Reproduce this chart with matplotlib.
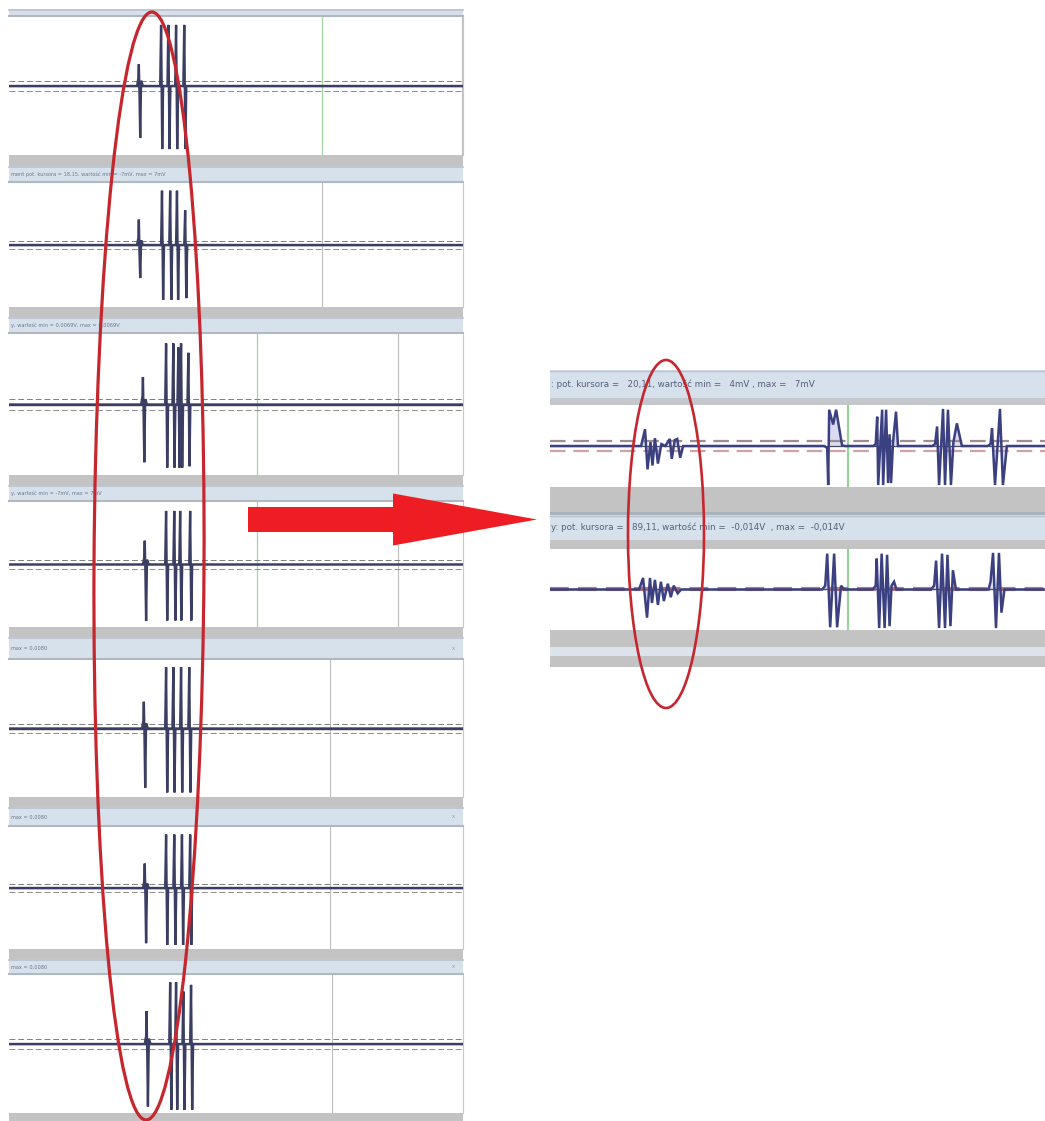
import matplotlib
matplotlib.use("Agg")
import matplotlib.pyplot as plt
from matplotlib.patches import Ellipse, FancyArrow, Rectangle

W, H = 1045, 1121

# ---------------- left column: seven stacked recordings ----------------
left_burst_times = [28.6, 28.6, 29.5, 29.9, 29.7, 29.9, 30.3]
left_burst_up = [0.33, 0.43, 0.41, 0.40, 0.41, 0.42, 0.50]
left_burst_down = [-0.79, -0.56, -0.86, -0.95, -0.91, -0.95, -0.95]
left_spike_times = [
    [33.6, 35.2, 36.9, 38.7],
    [33.8, 35.6, 37.1, 38.9],
    [34.7, 36.3, 37.4, 38.0, 39.6],
    [34.7, 36.5, 37.8, 40.0],
    [34.7, 36.3, 38.0, 39.8],
    [34.7, 36.5, 38.2, 40.0],
    [35.6, 36.9, 38.5, 40.2],
]
left_spike_tops = [
    [0.93, 0.93, 0.93, 0.93],
    [0.92, 0.92, 0.92, 0.59],
    [0.91, 0.91, 0.85, 0.91, 0.77],
    [0.90, 0.90, 0.90, 0.90],
    [0.94, 0.94, 0.94, 0.94],
    [0.92, 0.92, 0.92, 0.92],
    [0.94, 0.94, 0.80, 0.90],
]
left_spike_bottoms = [
    [-0.96, -0.96, -0.96, -0.96],
    [-0.93, -0.93, -0.93, -0.90],
    [-0.94, -0.94, -0.94, -0.94, -0.92],
    [-0.94, -0.94, -0.94, -0.94],
    [-0.98, -0.98, -0.98, -0.98],
    [-0.98, -0.98, -0.98, -0.98],
    [-1.00, -1.00, -1.00, -1.00],
]
left_cursor_green = [69.0, None, 54.7, 54.7, None, None, None]
left_cursor_gray = [99.8, 69.0, 85.7, 85.7, 70.8, 70.8, 71.2]
left_headers = [
    "",
    "ment pot. kursora = 18,15, wartość min = -7mV, max = 7mV",
    "y, wartość min = 0,0069V, max = 0,0069V",
    "y, wartość min = -7mV, max = 7mV",
    "max = 0,0080",
    "max = 0,0080",
    "max = 0,0080",
]

# ---------------- right column: two zoomed recordings ----------------
right_headers = [
    ": pot. kursora =   20,11, wartość min =   4mV , max =   7mV",
    "y: pot. kursora =   89,11, wartość min =  -0,014V  , max =  -0,014V",
]
right_cursor = [60.2, 60.2]
right_a_t = [0.0, 18.4, 19.2, 19.7, 20.3, 20.7, 21.2, 21.8, 22.5, 23.3, 24.2, 24.6,
             25.2, 25.7, 26.3, 26.9,
             55.4, 56.0, 56.2, 56.4, 57.2, 57.8, 59.0, 59.5,
             65.3, 65.8, 66.1, 66.3, 67.1, 67.3, 67.9, 68.3, 68.6, 68.9, 69.3, 69.9, 70.3, 71.0,
             77.2, 77.8, 78.2, 78.6, 79.4, 79.8, 80.4, 81.0, 81.5, 82.2, 83.2, 83.8,
             88.4, 89.0, 89.3, 89.9, 90.9, 91.5, 92.3, 92.8, 100.0]
right_a_v = [0.0, 0.0, 0.43, -0.60, 0.10, -0.50, 0.20, -0.45, 0.05, 0.0, 0.18, -0.33,
             0.15, 0.18, -0.30, 0.0,
             0.0, -0.05, -1.00, 0.93, 0.55, 0.93, 0.02, 0.0,
             0.0, 0.05, 0.75, -1.00, 0.93, -1.00, 0.93, -0.95, 0.30, -0.95, 0.10, 0.88, 0.0, 0.0,
             0.0, 0.05, 0.50, -1.00, 0.95, -1.00, 0.93, -1.00, 0.10, 0.58, 0.0, 0.0,
             0.0, 0.05, 0.45, -1.00, 0.95, -1.00, 0.0, 0.0, 0.0]
right_b_t = [0.0, 18.0, 18.8, 19.6, 20.2, 20.6, 21.2, 21.8, 22.4, 23.0, 23.8, 24.4, 25.0,
             25.8, 26.5,
             55.0, 55.6, 56.0, 56.6, 57.4, 58.0, 58.8, 59.4,
             65.2, 65.8, 66.0, 66.5, 67.0, 67.6, 68.1, 68.6, 69.0, 69.5, 70.0,
             77.0, 77.6, 78.0, 78.6, 79.2, 79.8, 80.3, 80.9, 81.4, 82.0,
             88.6, 89.0, 89.5, 90.1, 90.7, 91.2, 91.8, 100.0]
right_b_v = [0.0, 0.0, 0.30, -0.73, 0.30, -0.35, 0.25, -0.40, 0.20, -0.30, 0.15, -0.20, 0.10,
             -0.10, 0.0,
             0.0, 0.10, 0.93, -0.98, 0.93, -0.98, 0.10, 0.0,
             0.0, 0.10, 0.80, -1.00, 0.93, -1.00, 0.90, -0.95, 0.10, 0.20, 0.0,
             0.0, 0.10, 0.75, -1.00, 0.93, -1.00, 0.90, -0.95, 0.50, 0.0,
             0.0, 0.20, 0.95, -1.00, 0.95, -0.60, 0.0, 0.0]

# ---------------- layout (pixel boxes) ----------------
LX0, LX1 = 9, 463
left_boxes = [  # header top, plot top, plot bottom, gray bar bottom
    (9, 17, 155, 166),
    (166, 183, 307, 317),
    (317, 334, 475, 485),
    (485, 502, 627, 637),
    (637, 660, 797, 807),
    (807, 827, 949, 959),
    (959, 975, 1113, 1121),
]
RX0, RX1 = 550, 1045
right_boxes = [  # header top, header bottom, plot top, plot bottom
    (370, 398, 405, 487),
    (515, 540, 549, 630),
]

BAR = "#c3c3c3"
HEAD = "#d6e1ec"
HEAD_EDGE = "#b7c2ce"
TRACE = "#3a3e62"
FILL = "#7c84c4"

fig = plt.figure(figsize=(W / 100, H / 100), dpi=100)
fig.patch.set_facecolor("white")

bg = fig.add_axes([0, 0, 1, 1], zorder=0)
bg.set_xlim(0, W)
bg.set_ylim(H, 0)
bg.axis("off")


def px_axes(x0, y0, x1, y1, z=1):
    ax = fig.add_axes([x0 / W, 1 - y1 / H, (x1 - x0) / W, (y1 - y0) / H], zorder=z)
    ax.set_facecolor("none")
    ax.axis("off")
    return ax


def rect(x0, y0, x1, y1, color, **kw):
    bg.add_patch(Rectangle((x0, y0), x1 - x0, y1 - y0, facecolor=color,
                           edgecolor="none", **kw))


def left_trace(bt, up, down, times, tops, bots):
    t = [0.0, bt - 0.4, bt - 0.1, bt, bt + 0.15, bt + 0.3, bt + 0.5, bt + 0.9]
    v = [0.0, 0.0, 0.12, up, -0.15, down, 0.08, 0.0]
    for ts, top, bot in zip(times, tops, bots):
        t += [ts - 0.3, ts - 0.1, ts + 0.15, ts + 0.35]
        v += [0.0, top, bot, 0.0]
    t.append(100.0)
    v.append(0.0)
    return t, v


# left column panels
for i, (h0, p0, p1, g1) in enumerate(left_boxes):
    rect(LX0, h0, LX1, p0, HEAD)
    bg.plot([LX0, LX1], [h0 + 0.5, h0 + 0.5], color=HEAD_EDGE, lw=1.2)
    bg.plot([LX0, LX1], [p0 - 0.8, p0 - 0.8], color="#b0b8c2", lw=1.5)
    rect(LX0, p1, LX1, g1, BAR)
    bg.plot([LX1, LX1], [p0, p1], color="#c8c8c8", lw=0.8)
    if left_headers[i]:
        bg.text(LX0 + 2, (h0 + p0) / 2, left_headers[i], fontsize=3.6,
                color="#6b7588", va="center", ha="left")
    if i >= 4:
        bg.text(LX1 - 10, (h0 + p0) / 2, "x", fontsize=3.6, color="#8a94a6",
                va="center", ha="center")

    ax = px_axes(LX0, p0, LX1, p1)
    ax.set_xlim(0, 100)
    ax.set_ylim(-1.05, 1.05)
    if left_cursor_green[i] is not None:
        ax.axvline(left_cursor_green[i], color="#a6d3a6", lw=0.9)
    ax.axvline(left_cursor_gray[i], color="#bdbdbd", lw=0.8)
    ax.axhline(0.075, color="#7f7f7f", lw=0.7, dashes=(6, 3))
    ax.axhline(-0.075, color="#8c8c8c", lw=0.7, dashes=(6, 3))
    ax.axhline(0.0, color="#3a3a48", lw=1.0)
    t, v = left_trace(left_burst_times[i], left_burst_up[i], left_burst_down[i],
                      left_spike_times[i], left_spike_tops[i], left_spike_bottoms[i])
    ax.fill_between(t, v, 0, color=FILL, alpha=0.4, lw=0)
    ax.plot(t, v, color=TRACE, lw=1.7, solid_joinstyle="miter")

# right column panels
rect(RX0, 398, RX1, 405, "#c4c7cb")
rect(RX0, 487, RX1, 512, BAR)
rect(RX0, 512, RX1, 515, "#a9b1ba")
rect(RX0, 540, RX1, 549, BAR)
rect(RX0, 630, RX1, 647, BAR)
rect(RX0, 647, RX1, 656, "#dde3ea")
rect(RX0, 656, RX1, 667, BAR)

right_t = [right_a_t, right_b_t]
right_v = [right_a_v, right_b_v]
for i, (h0, h1, p0, p1) in enumerate(right_boxes):
    rect(RX0, h0, RX1, h1, HEAD)
    bg.plot([RX0, RX1], [h0 + 0.5, h0 + 0.5], color=HEAD_EDGE, lw=1.0)
    bg.text(RX0 + 1, (h0 + h1) / 2, right_headers[i], fontsize=6.3,
            color="#56607a", va="center", ha="left")

    ax = px_axes(RX0, p0, RX1, p1)
    ax.set_xlim(0, 100)
    ax.set_ylim(-1.05, 1.05)
    ax.axvline(right_cursor[i], color="#98d498", lw=1.6)
    if i == 0:
        ax.axhline(0.12, color="#a08c90", lw=1.6, dashes=(7, 3.5))
        ax.axhline(-0.12, color="#d0a2a8", lw=1.6, dashes=(7, 3.5))
        ax.axhline(0.0, color="#4a4a58", lw=0.9)
    else:
        ax.axhline(0.0, color="#4a4a58", lw=1.0)
        ax.axhline(0.0, color="#a8606f", lw=3.0, dashes=(4.5, 2.2), alpha=0.85)
    ax.fill_between(right_t[i], right_v[i], 0, color="#aab0e6", alpha=0.45, lw=0)
    ax.plot(right_t[i], right_v[i], color="#3a4080", lw=1.8, solid_joinstyle="miter")

# annotations on top: highlight ellipses and arrow
fg = fig.add_axes([0, 0, 1, 1], zorder=10)
fg.set_facecolor("none")
fg.set_xlim(0, W)
fg.set_ylim(H, 0)
fg.axis("off")
fg.add_patch(Ellipse((149, 566), 110, 1108, angle=0.3, fill=False,
                     edgecolor="#c6262e", lw=2.3))
fg.add_patch(Ellipse((666, 534), 76, 348, fill=False, edgecolor="#c6262e", lw=1.9))
fg.add_patch(FancyArrow(248, 519.5, 289, 0, width=25, head_width=52,
                        head_length=144, length_includes_head=True,
                        facecolor="#ee1d24", edgecolor="none"))

fig.savefig("out.png", dpi=100, facecolor="white")
